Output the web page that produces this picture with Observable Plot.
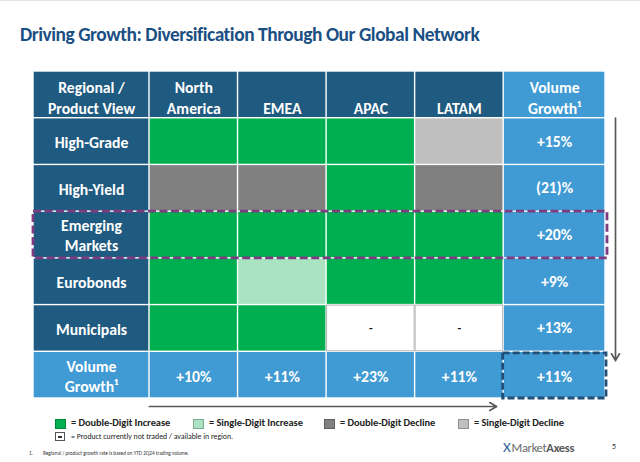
<!DOCTYPE html>
<html><head><meta charset="utf-8">
<script src="https://cdn.jsdelivr.net/npm/d3@7"></script>
<script src="https://cdn.jsdelivr.net/npm/@observablehq/plot@0.6"></script>
<style>
body{margin:0;background:#fff;font-family:Carlito,Lato,sans-serif;}
#wrap{position:relative;width:640px;height:462px;overflow:hidden;background:#fff}
#topline{position:absolute;left:0;top:0;width:640px;height:1px;background:#e2e2e2}
#chart{position:absolute;left:0;top:0}
#title{position:absolute;left:20px;top:23px;font-size:19.4px;font-weight:700;color:#1a4f83;white-space:nowrap;letter-spacing:-0.45px}
.lg{position:absolute;font-size:10.4px;font-weight:700;color:#222;white-space:nowrap;line-height:12px;letter-spacing:-0.05px}
.sw{position:absolute;width:9px;height:8px;border:1px solid rgba(0,0,0,0.25)}
#nt{position:absolute;font-size:7.8px;color:#222;white-space:nowrap;line-height:10px}
#ntbox{position:absolute;width:8px;height:7px;border:1px solid #555;background:#fff}
#ntbox span{position:absolute;left:2px;top:3px;width:4px;height:1.5px;background:#333}
#fn1,#fn{position:absolute;font-size:5.2px;color:#333;white-space:nowrap}
#logo{position:absolute;left:503px;top:438px;font-size:12.5px;color:#6b6b6b;white-space:nowrap;letter-spacing:-0.3px}
#logo .x{color:#2f5f9a;font-weight:300;font-size:15px;margin-right:1px}
#logo b{color:#5a5a5a;font-weight:700}
#page{position:absolute;left:612px;top:441px;font-size:8px;color:#333}
</style></head><body>
<div id="wrap">
<div id="chart"></div>
<div id="topline"></div>
<div id="title"></div>
<div id="legend"></div>
<div id="logo"><span class="x">X</span>Market<b>Axess</b></div>
<div id="page">5</div>
</div>
<script>
// ---------- data ----------
const titleText = "Driving Growth: Diversification Through Our Global Network";
const cornerHeader = "Regional /\nProduct View";
const regionHeaders = ["North\nAmerica", "EMEA", "APAC", "LATAM"];
const growthHeader = "Volume\nGrowth¹";
const products = ["High-Grade", "High-Yield", "Emerging\nMarkets", "Eurobonds", "Municipals"];
// status per region column, in product order (DDI, SDI, DDD, SDD, NT)
const northAmerica = ["DDI", "DDD", "DDI", "DDI", "DDI"];
const emea         = ["DDI", "DDD", "DDI", "SDI", "DDI"];
const apac         = ["DDI", "DDI", "DDI", "DDI", "NT"];
const latam        = ["SDD", "DDD", "DDI", "DDI", "NT"];
const productGrowth = ["+15%", "(21)%", "+20%", "+9%", "+13%"];
const bottomLabel = "Volume\nGrowth¹";
const regionGrowth = ["+10%", "+11%", "+23%", "+11%"];
const totalGrowth = "+11%";
const notTradedMark = "-";
const legendKinds = ["DDI", "SDI", "DDD", "SDD"];
const legendLabels = ["= Double-Digit Increase", "= Single-Digit Increase", "= Double-Digit Decline", "= Single-Digit Decline"];
const notTradedLabel = "= Product currently not traded / available in region.";
const footnoteNum = "1.";
const footnoteText = "Regional / product growth rate is based on YTD 2Q24 trading volume.";
const highlightedProduct = "Emerging\nMarkets";

// ---------- styles / layout ----------
const kindDomain = ["head", "growth", "DDI", "SDI", "DDD", "SDD", "NT"];
const kindColors = ["#1f5a80", "#409ad3", "#00b050", "#a9e3c2", "#808080", "#bfbfbf", "#ffffff"];
const colWeights = [1.31, 1, 1, 1, 1, 1.15]; // relative column widths
const colStart = colWeights.map((w, i) => d3.sum(colWeights.slice(0, i)));
const colEnd = colWeights.map((w, i) => colStart[i] + w);
const colMid = colWeights.map((w, i) => colStart[i] + w / 2);
const totalW = d3.sum(colWeights);
const nRows = products.length + 2;
const font = "Carlito, Lato, sans-serif";
const fs = 15.7;

document.getElementById("title").textContent = titleText;

const regionCols = [northAmerica, emea, apac, latam];

// cells
const cells = [];
for (let r = 0; r < nRows; r++) {
  for (let c = 0; c < colWeights.length; c++) {
    let kind;
    if (r === nRows - 1) kind = "growth";
    else if (c === colWeights.length - 1) kind = "growth";
    else if (r === 0 || c === 0) kind = "head";
    else kind = regionCols[c - 1][r - 1];
    cells.push({r, c, kind, x1: colStart[c], x2: colEnd[c], y1: r, y2: r + 1});
  }
}

const headerTexts = [cornerHeader, ...regionHeaders, growthHeader].map((t, c) => ({t, x: colMid[c], y: 0.9}));
const rowLabels = products.map((t, i) => ({t, x: colMid[0], y: i + 1.5}));
const growthTexts = productGrowth.map((t, i) => ({t, x: colMid[5], y: i + 1.5}));
const bottomTexts = [bottomLabel, ...regionGrowth, totalGrowth].map((t, c) => ({t, x: colMid[c], y: nRows - 0.5}));
const ntTexts = cells.filter(d => d.kind === "NT").map(d => ({t: notTradedMark, x: colMid[d.c], y: d.r + 0.5}));
const hiRow = products.indexOf(highlightedProduct) + 1;

const chart = Plot.plot({
  width: 640,
  height: 462,
  x: {domain: [0, totalW], range: [33, 605], axis: null},
  y: {domain: [0, nRows], range: [71, 398], axis: null},
  color: {type: "ordinal", domain: kindDomain, range: kindColors},
  style: {fontFamily: font, background: "transparent"},
  marks: [
    Plot.rect(cells, {x1: "x1", x2: "x2", y1: "y1", y2: "y2", fill: "kind", inset: 0.7}),
    Plot.rect(cells.filter(d => d.kind === "NT"), {x1: "x1", x2: "x2", y1: "y1", y2: "y2", fill: "white", stroke: "#b5b5b5", strokeWidth: 1, inset: 0.5}),
    Plot.text(headerTexts, {x: "x", y: "y", text: "t", fill: "white", fontSize: fs, fontWeight: 700, lineAnchor: "bottom", lineHeight: 1.28}),
    Plot.text(rowLabels, {x: "x", y: "y", text: "t", fill: "white", fontSize: fs, fontWeight: 700, lineAnchor: "middle", lineHeight: 1.28}),
    Plot.text(growthTexts, {x: "x", y: "y", text: "t", fill: "white", fontSize: fs, fontWeight: 700}),
    Plot.text(bottomTexts, {x: "x", y: "y", text: "t", fill: "white", fontSize: fs, fontWeight: 700, lineAnchor: "middle", lineHeight: 1.28}),
    Plot.text(ntTexts, {x: "x", y: "y", text: "t", fill: "#111", fontSize: 12, fontWeight: 700}),
    // highlight boxes
    Plot.rect([hiRow], {x1: 0, x2: totalW, y1: d => d, y2: d => d + 1, fill: "none", stroke: "#7d3c7f", strokeWidth: 2.8, strokeDasharray: "8,3.5", insetRight: -2}),
    Plot.rect([nRows - 1], {x1: colStart[5], x2: colEnd[5], y1: d => d, y2: d => d + 1, fill: "none", stroke: "#1f4e79", strokeWidth: 2.8, strokeDasharray: "7,3", insetTop: 1.5, insetLeft: -0.5, insetRight: -1}),
    // direction arrows
    Plot.arrow([0], {x1: totalW, x2: totalW, y1: 1, y2: nRows - 1 + 0.19, dx: 10, stroke: "#5a5a5a", strokeWidth: 1.7, headLength: 7, bend: 0}),
    Plot.arrow([0], {x1: colStart[1], x2: colEnd[4], y1: nRows, y2: nRows, dy: 8, insetEnd: 7, stroke: "#5a5a5a", strokeWidth: 1.7, headLength: 7, bend: 0})
  ]
});
document.getElementById("chart").appendChild(chart);

// legend (HTML, below the table)
const legendX = [55, 193, 324, 458];
const legend = document.getElementById("legend");
legendKinds.forEach((k, i) => {
  const sw = document.createElement("div");
  sw.className = "sw";
  sw.style.left = legendX[i] + "px";
  sw.style.top = "419px";
  sw.style.background = kindColors[kindDomain.indexOf(k)];
  legend.appendChild(sw);
  const lb = document.createElement("div");
  lb.className = "lg";
  lb.style.left = (legendX[i] + 16) + "px";
  lb.style.top = "417px";
  lb.textContent = legendLabels[i];
  legend.appendChild(lb);
});
const ntbox = document.createElement("div");
ntbox.id = "ntbox"; ntbox.style.left = "55px"; ntbox.style.top = "432px";
ntbox.appendChild(document.createElement("span"));
legend.appendChild(ntbox);
const nt = document.createElement("div");
nt.id = "nt"; nt.style.left = "71px"; nt.style.top = "432px"; nt.textContent = notTradedLabel;
legend.appendChild(nt);
const f1 = document.createElement("div");
f1.id = "fn1"; f1.style.left = "29px"; f1.style.top = "450px"; f1.textContent = footnoteNum;
legend.appendChild(f1);
const f2 = document.createElement("div");
f2.id = "fn"; f2.style.left = "43px"; f2.style.top = "450px"; f2.textContent = footnoteText;
legend.appendChild(f2);
</script>
</body></html>
